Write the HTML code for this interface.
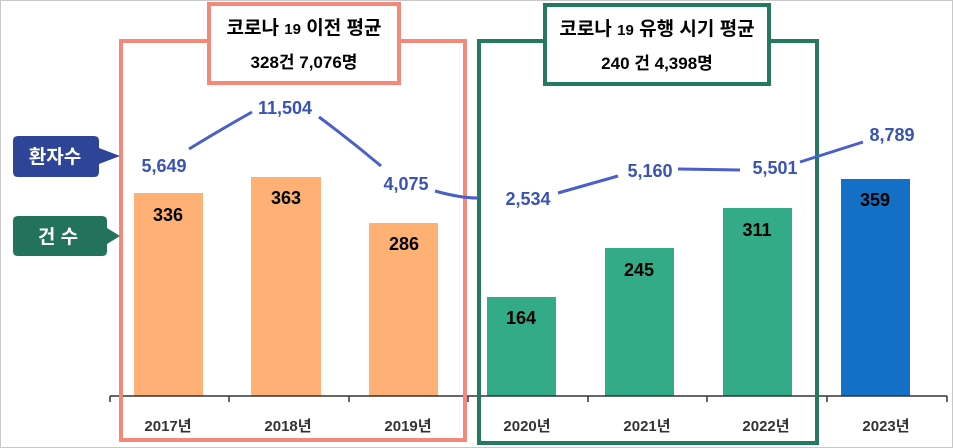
<!DOCTYPE html>
<html><head><meta charset="utf-8"><style>
html,body{margin:0;padding:0;background:#fff}
svg{display:block}
text{font-family:"Liberation Sans","Noto Sans CJK KR",sans-serif;font-weight:bold}
</style></head><body>
<svg width="953" height="448" viewBox="0 0 953 448">
<rect x="0.5" y="0.5" width="952" height="447" fill="#fff" stroke="#c8c8c8"/>
<g>
<rect x="134" y="193" width="69" height="203" fill="#FFB074"/>
<rect x="251" y="177" width="70" height="219" fill="#FFB074"/>
<rect x="369" y="223" width="69" height="173" fill="#FFB074"/>
<rect x="487" y="297" width="69" height="99" fill="#33AB86"/>
<rect x="605" y="248" width="69" height="148" fill="#33AB86"/>
<rect x="723" y="208" width="69" height="188" fill="#33AB86"/>
<rect x="841" y="179" width="69" height="217" fill="#1470C4"/>
</g>
<g font-size="18" fill="#000" text-anchor="middle">
<text x="168" y="221">336</text>
<text x="286" y="204">363</text>
<text x="404" y="250">286</text>
<text x="521" y="324">164</text>
<text x="639" y="276">245</text>
<text x="757" y="236">311</text>
<text x="875" y="206">359</text>
</g>
<g stroke="#333" stroke-width="1.5">
<line x1="110" y1="396" x2="947" y2="396"/>
<line x1="110" y1="396" x2="110" y2="402"/><line x1="229" y1="396" x2="229" y2="402"/>
<line x1="349" y1="396" x2="349" y2="402"/><line x1="468" y1="396" x2="468" y2="402"/>
<line x1="588" y1="396" x2="588" y2="402"/><line x1="707" y1="396" x2="707" y2="402"/>
<line x1="827" y1="396" x2="827" y2="402"/><line x1="947" y1="396" x2="947" y2="402"/>
</g>
<g font-size="15" fill="#333" text-anchor="middle">
<text x="168" y="431">2017년</text><text x="288" y="431">2018년</text>
<text x="408" y="431">2019년</text><text x="527" y="431">2020년</text>
<text x="647" y="431">2021년</text><text x="766" y="431">2022년</text>
<text x="886" y="431">2023년</text>
</g>
<rect x="121" y="41" width="344" height="399" fill="none" stroke="#F4897A" stroke-width="4"/>
<rect x="479" y="41" width="338" height="402" fill="none" stroke="#247A5E" stroke-width="4"/>
<rect x="209" y="4" width="190" height="79" fill="#fff" stroke="#F4897A" stroke-width="4"/>
<rect x="545" y="5" width="224" height="79" fill="#fff" stroke="#247A5E" stroke-width="4"/>
<g font-size="19" fill="#000" text-anchor="middle">
<text x="304" y="34">코로나 <tspan font-size="15">19</tspan> 이전 평균</text>
<text x="304" y="68" font-size="17">328건 7,076명</text>
<text x="657" y="35">코로나 <tspan font-size="15">19</tspan> 유행 시기 평균</text>
<text x="657" y="69" font-size="17">240 건  4,398명</text>
</g>
<g fill="none" stroke="#4A5FC8" stroke-width="3">
<path d="M189,149 Q220,130 252,112"/>
<path d="M319,117 Q350,140 381,166"/>
<path d="M435,191 Q460,198 478,198"/>
<path d="M558,193 L618,176"/>
<path d="M678,169 L740,170"/>
<path d="M800,162 L863,142"/>
</g>
<g font-size="18" fill="#3A52B4" text-anchor="middle">
<text x="164" y="172">5,649</text>
<text x="285" y="114">11,504</text>
<text x="406" y="190">4,075</text>
<text x="528" y="205">2,534</text>
<text x="650" y="177">5,160</text>
<text x="775" y="174">5,501</text>
<text x="892" y="141">8,789</text>
</g>
<path d="M18,136 H94 Q99,136 99,141 V148 L120,156 L99,164 V172 Q99,177 94,177 H18 Q13,177 13,172 V141 Q13,136 18,136 Z" fill="#2E4597"/>
<text x="55" y="163" font-size="19" fill="#fff" text-anchor="middle">환자수</text>
<path d="M18,216 H102 Q107,216 107,221 V228 L120,236 L107,244 V251 Q107,256 102,256 H18 Q13,256 13,251 V221 Q13,216 18,216 Z" fill="#22735A"/>
<text x="58" y="243" font-size="19" fill="#fff" text-anchor="middle">건 수</text>
</svg>
</body></html>
